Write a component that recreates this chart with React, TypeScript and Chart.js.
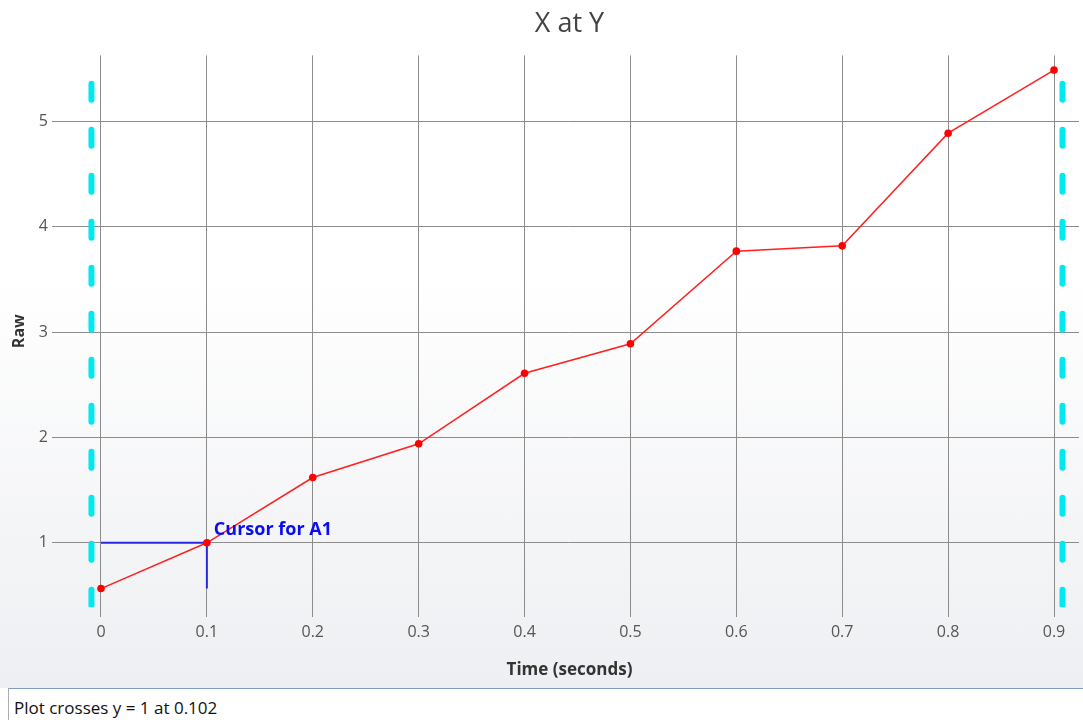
import React, { useEffect, useRef } from "react";
import { Chart, registerables } from "chart.js";

Chart.register(...registerables);

// ---- Data ----
const timeValues = [0, 0.1, 0.2, 0.3, 0.4, 0.5, 0.6, 0.7, 0.8, 0.9];
const rawValues = [0.565, 1.0, 1.62, 1.94, 2.61, 2.89, 3.77, 3.82, 4.89, 5.49];
const xTicks = [0, 0.1, 0.2, 0.3, 0.4, 0.5, 0.6, 0.7, 0.8, 0.9];
const yTicks = [1, 2, 3, 4, 5];
const boundXs = [-0.009, 0.908];
const boundYRange = [5.36, 0.36];
const cursorX = 0.1;
const cursorY = 1;
const cursorLabel = "Cursor for A1";
const chartTitle = "X at Y";
const xTitle = "Time (seconds)";
const yTitle = "Raw";
const crossingText = "Plot crosses y = 1 at 0.102";

const FONT = "'Open Sans', 'Noto Sans', sans-serif";

const cursorLabelPlugin = {
  id: "cursorLabel",
  afterDatasetsDraw(chart: any) {
    const { ctx, scales } = chart;
    const px = scales.x.getPixelForValue(cursorX);
    const py = scales.y.getPixelForValue(cursorY);
    ctx.save();
    ctx.font = `bold 18px ${FONT}`;
    ctx.fillStyle = "#0c0cf0";
    ctx.textAlign = "left";
    ctx.textBaseline = "alphabetic";
    ctx.fillText(cursorLabel, px + 7, py - 8);
    ctx.restore();
  },
};

export default function App() {
  const ref = useRef<HTMLCanvasElement | null>(null);

  useEffect(() => {
    if (!ref.current) return;
    const mainData = timeValues.map((x, i) => ({ x, y: rawValues[i] }));
    const cursorData = [
      { x: timeValues[0], y: cursorY },
      { x: cursorX, y: cursorY },
      { x: cursorX, y: rawValues[0] },
    ];
    const boundDatasets = boundXs.map((bx) => ({
      data: [
        { x: bx, y: boundYRange[0] },
        { x: bx, y: boundYRange[1] },
      ],
      borderColor: "#00e8f0",
      borderWidth: 6,
      borderDash: [16, 30],
      borderCapStyle: "round" as const,
      pointRadius: 0,
      order: 2,
    }));

    const chart = new Chart(ref.current, {
      type: "line",
      data: {
        datasets: [
          {
            data: mainData,
            borderColor: "#ff2020",
            backgroundColor: "#ff0000",
            borderWidth: 1.5,
            pointRadius: 3.8,
            pointBorderWidth: 0,
            pointBackgroundColor: "#ff0000",
            order: 0,
          },
          {
            data: cursorData,
            borderColor: "#2828e0",
            borderWidth: 2,
            pointRadius: 0,
            order: 1,
          },
          ...boundDatasets,
        ] as any,
      },
      options: {
        animation: false,
        responsive: true,
        maintainAspectRatio: false,
        layout: { padding: 0 },
        plugins: {
          legend: { display: false },
          tooltip: { enabled: false },
          title: {
            display: true,
            text: chartTitle,
            color: "#444",
            fullSize: false,
            font: { family: FONT, size: 27, weight: "normal" as any },
            padding: { top: 8, bottom: 15 },
          },
        },
        scales: {
          x: {
            type: "linear",
            min: -0.0387,
            max: 0.9236,
            afterBuildTicks: (s: any) => {
              s.ticks = xTicks.map((v) => ({ value: v }));
            },
            afterFit: (s: any) => {
              s.height = 81;
            },
            ticks: {
              color: "#555",
              font: { family: FONT, size: 16 },
              padding: 6,
              callback: (v: any) => String(Math.round(Number(v) * 10) / 10),
            },
            grid: { color: "#8c8c8c", tickLength: 10, lineWidth: 1 },
            border: { display: false },
            title: {
              display: true,
              text: xTitle,
              color: "#333",
              font: { family: FONT, size: 17, weight: "bold" as any },
              padding: { top: 0, bottom: 8 },
            },
          },
          y: {
            type: "linear",
            min: 0.39,
            max: 5.629,
            afterBuildTicks: (s: any) => {
              s.ticks = yTicks.map((v) => ({ value: v }));
            },
            afterFit: (s: any) => {
              s.width = 60;
            },
            ticks: {
              color: "#555",
              font: { family: FONT, size: 16 },
              padding: 4,
            },
            grid: { color: "#8c8c8c", tickLength: 8, lineWidth: 1 },
            border: { display: false },
            title: {
              display: true,
              text: yTitle,
              color: "#333",
              font: { family: FONT, size: 16, weight: "bold" as any },
              padding: { top: 10, bottom: 0 },
            },
          },
        },
      },
      plugins: [cursorLabelPlugin],
    });
    return () => chart.destroy();
  }, []);

  return (
    <div
      style={{
        position: "fixed",
        left: 0,
        top: 0,
        width: 1083,
        height: 720,
        overflow: "hidden",
        background: "#ffffff",
      }}
    >
      <div
        style={{
          position: "absolute",
          left: 0,
          top: 0,
          width: 1083,
          height: 688,
          background:
            "linear-gradient(to bottom, #ffffff 0%, #ffffff 40%, #eeeff2 100%)",
        }}
      >
        <canvas ref={ref} />
      </div>
      <div
        style={{
          position: "absolute",
          left: 8,
          top: 688,
          width: 1090,
          height: 40,
          boxSizing: "border-box",
          background: "#ffffff",
          borderTop: "1px solid #7f9cc4",
          borderLeft: "1px solid #abadb3",
          fontFamily: FONT,
          fontSize: 17,
          lineHeight: "22px",
          color: "#111",
          paddingLeft: 5,
          paddingTop: 8,
        }}
      >
        {crossingText}
      </div>
    </div>
  );
}
